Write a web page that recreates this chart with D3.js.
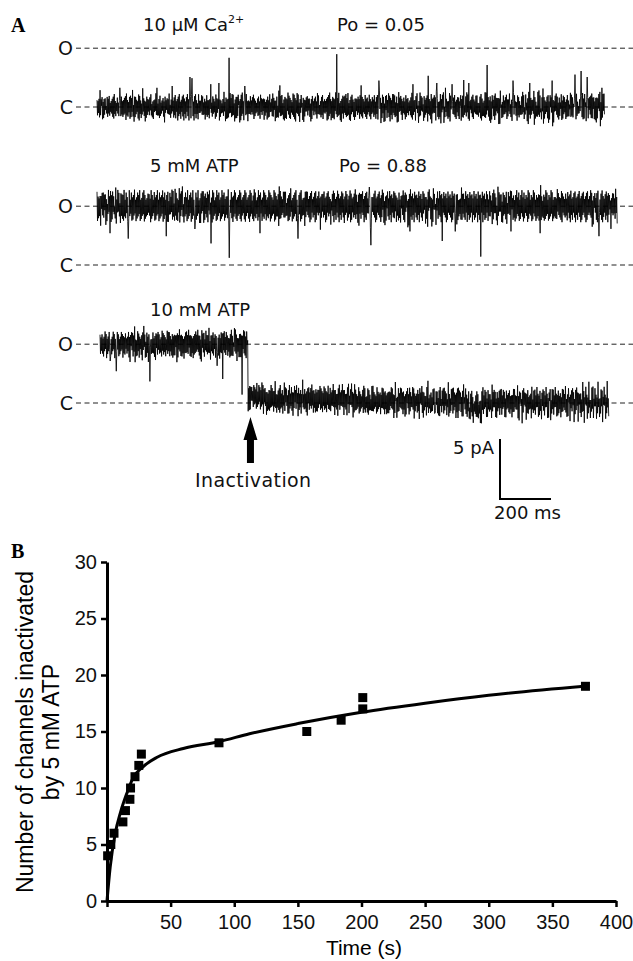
<!DOCTYPE html>
<html>
<head>
<meta charset="utf-8">
<script src="https://cdn.jsdelivr.net/npm/d3@7"></script>
<style>
  body { margin: 0; background: #fff; }
  .lbl { font-family: "DejaVu Sans", sans-serif; font-size: 18px; fill: #111; }
  .axB text { font-family: "Liberation Sans", Arial, sans-serif; font-size: 20px; fill: #111; }
</style>
</head>
<body>
<svg id="fig" width="633" height="961"></svg>
<script>
// ---- panel B data: time (s) vs number of channels inactivated
var timeS  = [0.5, 3, 5.5, 12.5, 14.5, 18, 18.5, 22, 25, 27, 88, 157, 184, 201, 201, 376];
var nInact = [4, 5, 6, 7, 8, 9, 10, 11, 12, 13, 14, 15, 16, 17, 18, 19];

// fitted curve
var fitT = [0, 2.5, 6.5, 10.5, 15.5, 20.5, 28.5, 39, 60, 88, 112, 150, 200, 250, 300, 375];
var fitN = [0, 3, 6, 7.8, 9.5, 10.9, 11.9, 12.7, 13.5, 14.1, 14.8, 15.7, 16.7, 17.5, 18.2, 19.0];

var xTicksB = [0, 50, 100, 150, 200, 250, 300, 350, 400];
var yTicksB = [0, 5, 10, 15, 20, 25, 30];

// ---- panel A data: single channel records (pA, ms)
var iOpen = 4.9;
// noise magnitude per sample (alternating up/down), one digit per sample
var rec1Noise =
  "35243625314726354213645273415263748253416243516372" +
  "53627184926351748362951847362518493627158436291745" +
  "42536174253642518364253746152436285341625374163524" +
  "27364815293746182537492618354729163845271936482517" +
  "63425173642538164725364152437261548362514736251436" +
  "64193827456291738465192837465129384756192837461925" +
  "24635172846352416372548163524736152846357241638452" +
  "38274615928374651829374651928374615293847561928346" +
  "53612748354261735246183752436172548364152736481526" +
  "15293847562918374651928364751829346571829364751829" +
  "36452718364253716482537461528364725183645271638254" +
  "72846391582746391852746193857264918375264918735264" +
  "47253618472536142637581624375264183574625318472635" +
  "49362718594362817593462817594362871594362817594326" +
  "25364718253647215836472513648275364152738461527364" +
  "26153849271635849271653849276153849271635849721635" +
  "63527184635274163825746135284637251463827514632758" +
  "83947261538947261583947216538947261538492761538947" +
  "42718365274613582746351827463521847365214837562413" +
  "51728394657128394651728394615728394651728936457182";
// brief openings [ms, pA above closed]
var rec1Events = [[12, 1.4], [90, 1.6], [235, 1.6], [294, 1.75], [365, 2.5], [373, 2.4],
  [447, 1.9], [478, 2.0], [518, 4.1], [580, 1.75], [718, 1.8], [941, 4.4], [1035, 1.8],
  [1106, 2.2], [1239, 1.9], [1298, 2.6], [1333, 2.0], [1392, 1.9], [1439, 2.25],
  [1459, 2.0], [1529, 3.5], [1631, 2.2], [1698, 2.0], [1784, 2.2], [1875, 2.7],
  [1898, 3.0], [1922, 2.5], [1980, 1.6]];
var rec1Levels = [[0, 2000, 0]];

var rec2Noise =
  "58372649517384625937148263957482631597428365194738" +
  "39571846293857164928375619284736591827465938172645" +
  "46295837164928375619482736592847163958247361958427" +
  "76482915386472951837462958173649285716394827561938" +
  "63819574826395718426395847162958374619285736491827" +
  "28593716482937564819273658491726385947162839574618" +
  "39574816295738461927584639172856493827165948372659" +
  "95847261938475162938476519283746591827364958172639" +
  "74819263758491637285946173825964718392657481936257" +
  "41739582647193856274918365729184637295846173829564" +
  "28596374819265738491627358946172839564718293657482" +
  "68294751836492758163947258361947285163947582613948" +
  "61937482659173846295718364927158463972815649378261" +
  "37518462937584619273856491728365947182635948172536" +
  "95728364917582649371856294738165927483619572846391" +
  "84629371568492735618947263581947362859147362958147" +
  "47193856274918365729481637295846173928564719382657" +
  "52974618392857461938275649182736459182736495817263" +
  "82649173859264718395627481936574829163758492617385" +
  "69385172648593716284957361849275836149527381649257";
// brief closings [ms, pA relative to open level]
var rec2Events = [[51, -2.25], [122, -2.7], [271, -2.5], [322, 1.5], [384, -1.9],
  [447, -3.1], [518, -4.3], [639, -2.25], [788, -2.7], [1067, 1.6], [1075, -3.25],
  [1227, -2.1], [1353, -2.9], [1404, -2.1], [1506, -4.2], [1624, -2.1], [1737, -2.25],
  [1969, -2.5]];
var rec2Levels = [[0, 2040, 4.9]];

var rec3Noise =
  "46253718264539172645381726453917264538172645392718" +
  "35172648395172846395271846392517486392571846395172" +
  "35264718395264817352649183726451938276451839274651" +
  "62847193564827193564827391564827193654827193564829" +
  "72638451927364851936274815392647183925647381926473" +
  "47261938574621938457261938475261938457621938475261" +
  "53827164935281746392857164392817465392817463952817" +
  "28395716482395716428395716482935716482395716482395" +
  "26471839527461839257461938275461938274619382746193" +
  "53846172935846172953846172935846172953864172935846" +
  "84736251947362518493762518493726158493726154937261" +
  "74619283574619283754619283574691283574619283574619" +
  "37518264937152846937152846397152864937152864971528" +
  "36257184936257184963257184936257148936257184936257" +
  "64829371562849731658293476158293764152839476152938" +
  "81946273581946273518946273581946237581946273581946" +
  "25374816293574816253974861523974816259374816253974" +
  "25738461925738461952738461925738416925738461925738" +
  "48163925748163952748613952748169357481695237481695" +
  "69418257369418257396418257369418275369418257369418";
var rec3Events = [[39, -1.4], [63, -2.25], [137, -1.5], [196, -3.1], [302, -1.5],
  [459, -1.8], [482, -2.9], [537, -1.4], [557, -4.2], [1314, -1.0], [1404, -1.4]];
// [from ms, to ms, level pA]
var rec3Levels = [[0, 580, 4.9], [580, 640, 0.55], [640, 1000, 0.3], [1000, 1440, 0.15],
  [1440, 1500, -0.35], [1500, 2000, 0.05]];

var pxPerMs = 51 / 200;   // 200 ms bar
var pxPerPa = 60 / 5;     // 5 pA bar

var svg = d3.select("#fig");

// panel letters
svg.append("text").attr("x", 11).attr("y", 32)
  .style("font-family", "'Liberation Serif', serif").style("font-weight", "bold").style("font-size", "20px")
  .text("A");
svg.append("text").attr("x", 11).attr("y", 558)
  .style("font-family", "'Liberation Serif', serif").style("font-weight", "bold").style("font-size", "20px")
  .text("B");

function levelAt(levels, t) {
  for (var k = 0; k < levels.length; k++) {
    if (t >= levels[k][0] && t < levels[k][1]) return levels[k][2];
  }
  return levels[levels.length - 1][2];
}

var records = [
  {noise: rec1Noise, events: rec1Events, levels: rec1Levels, dur: 1990, x0: 97, yC: 107, unit: 0.18},
  {noise: rec2Noise, events: rec2Events, levels: rec2Levels, dur: 2040, x0: 97, yC: 265, unit: 0.2},
  {noise: rec3Noise, events: rec3Events, levels: rec3Levels, dur: 1995, x0: 100, yC: 403, unit: 0.18}
];

var recScales = records.map(function(rec) {
  var n = rec.noise.length;
  var x = d3.scaleLinear().domain([0, rec.dur]).range([rec.x0, rec.x0 + rec.dur * pxPerMs]);
  var y = d3.scaleLinear().domain([0, 5]).range([rec.yC, rec.yC - 5 * pxPerPa]);

  // O and C dashed reference lines
  [iOpen, 0].forEach(function(v, j) {
    svg.append("line")
      .attr("x1", 76).attr("x2", 633)
      .attr("y1", y(v)).attr("y2", y(v))
      .attr("stroke", "#222").attr("stroke-width", 1)
      .attr("stroke-dasharray", "5,3.5");
    svg.append("text").attr("class", "lbl")
      .attr("x", 73).attr("y", y(v) + 6.5)
      .attr("text-anchor", "end")
      .style("font-size", "19px")
      .text(j === 0 ? "O" : "C");
  });

  // signed noise, with its local mean taken out so the band stays level
  var raw = d3.range(n).map(function(i) {
    var d = +rec.noise[i] * rec.unit;
    return i % 2 ? -d : d;
  });
  var pts = raw.map(function(v, i) {
    var t = i * rec.dur / (n - 1);
    var m = d3.mean(raw.slice(Math.max(0, i - 4), i + 5));
    return [t, levelAt(rec.levels, t) + v - m];
  });
  rec.events.forEach(function(e) {
    var i = Math.round(e[0] / rec.dur * (n - 1));
    pts[i][1] = levelAt(rec.levels, pts[i][0]) + e[1];
  });

  var line = d3.line()
    .x(function(d) { return x(d[0]); })
    .y(function(d) { return y(d[1]); });

  svg.append("path")
    .attr("d", line(pts))
    .attr("fill", "none")
    .attr("stroke", "#000")
    .attr("stroke-width", 0.85);

  return {x: x, y: y};
});

// record labels
var l1 = svg.append("text").attr("class", "lbl").attr("x", 143).attr("y", 31);
l1.append("tspan").text("10 \u03bcM Ca");
l1.append("tspan").attr("dx", 0).attr("dy", -8).style("font-size", "11px").text("2+");
svg.append("text").attr("class", "lbl").attr("x", 337).attr("y", 31).text("Po = 0.05");
svg.append("text").attr("class", "lbl").attr("x", 150).attr("y", 172).text("5 mM ATP");
svg.append("text").attr("class", "lbl").attr("x", 339).attr("y", 172).text("Po = 0.88");
svg.append("text").attr("class", "lbl").attr("x", 150).attr("y", 316).text("10 mM ATP");

// inactivation arrow
var ax = recScales[2].x(590);
svg.append("path")
  .attr("d", "M" + ax + ",417 L" + (ax + 7) + ",440 L" + (ax + 3.5) + ",440 L" + (ax + 3.5) + ",463 L" +
    (ax - 3.5) + ",463 L" + (ax - 3.5) + ",440 L" + (ax - 7) + ",440 Z")
  .attr("fill", "#000");
svg.append("text").attr("class", "lbl").attr("x", 195).attr("y", 487)
  .style("font-size", "19px").style("letter-spacing", "0.4px")
  .text("Inactivation");

// scale bar
var sbX = 500, sbY = 499;
var s3 = recScales[2];
svg.append("path")
  .attr("d", "M" + sbX + "," + (sbY - (s3.y(0) - s3.y(5))) + " V" + sbY +
    " H" + (sbX + (s3.x(200) - s3.x(0))))
  .attr("fill", "none").attr("stroke", "#000").attr("stroke-width", 2);
svg.append("text").attr("class", "lbl").attr("x", 494).attr("y", 454)
  .attr("text-anchor", "end").text("5 pA");
svg.append("text").attr("class", "lbl").attr("x", 494).attr("y", 519).text("200 ms");

// ---- panel B
var xB = d3.scaleLinear().domain([0, 400]).range([107, 616]);
var yB = d3.scaleLinear().domain([0, 30]).range([901, 562]);

var gx = svg.append("g").attr("class", "axB")
  .attr("transform", "translate(0," + yB(0) + ")")
  .call(d3.axisBottom(xB).tickValues(xTicksB).tickSize(6).tickSizeOuter(0).tickPadding(8)
    .tickFormat(function(d) { return d === 0 ? "" : d; }));
var gy = svg.append("g").attr("class", "axB")
  .attr("transform", "translate(" + xB(0) + ",0)")
  .call(d3.axisLeft(yB).tickValues(yTicksB).tickSize(6).tickSizeOuter(0).tickPadding(4));
[gx, gy].forEach(function(g) {
  g.select(".domain").attr("stroke", "#000").attr("stroke-width", 3);
  g.selectAll(".tick line").attr("stroke", "#000").attr("stroke-width", 2.5);
});

svg.append("text")
  .attr("x", 364).attr("y", 955)
  .attr("text-anchor", "middle")
  .style("font-family", "'Liberation Sans', Arial, sans-serif").style("font-size", "21px")
  .text("Time (s)");

var yt = svg.append("text")
  .attr("transform", "translate(33,732) rotate(-90)")
  .attr("text-anchor", "middle")
  .style("font-family", "'Liberation Sans', Arial, sans-serif").style("font-size", "23px");
yt.append("tspan").attr("x", 0).attr("y", 0).text("Number of channels inactivated");
yt.append("tspan").attr("x", 0).attr("y", 26).text("by 5 mM ATP");

var fitPts = fitT.map(function(t, i) { return [t, fitN[i]]; });
svg.append("path")
  .attr("d", d3.line().curve(d3.curveMonotoneX)
    .x(function(d) { return xB(d[0]); })
    .y(function(d) { return yB(d[1]); })(fitPts))
  .attr("fill", "none").attr("stroke", "#000").attr("stroke-width", 3);

svg.selectAll("rect.pt")
  .data(timeS.map(function(t, i) { return [t, nInact[i]]; }))
  .enter().append("rect")
  .attr("class", "pt")
  .attr("x", function(d) { return xB(d[0]) - 4.5; })
  .attr("y", function(d) { return yB(d[1]) - 4.5; })
  .attr("width", 9).attr("height", 9)
  .attr("fill", "#000");
</script>
</body>
</html>
